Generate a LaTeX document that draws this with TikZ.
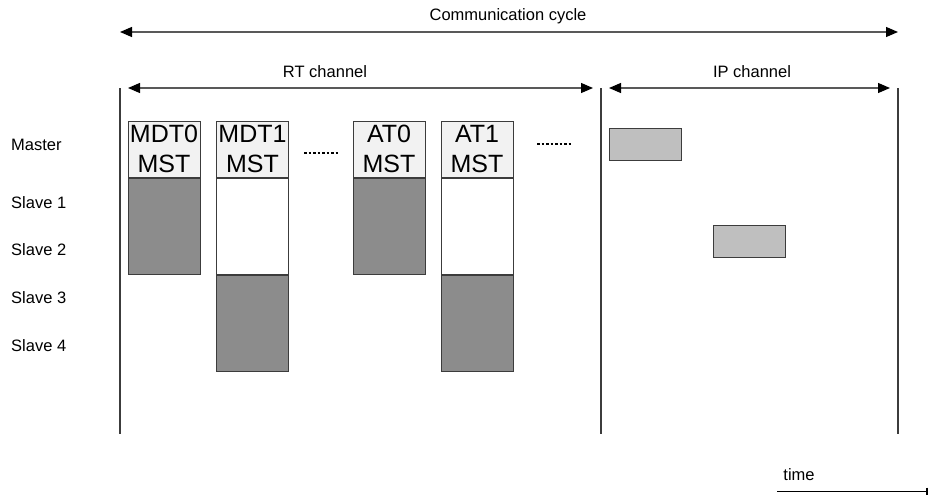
\documentclass[tikz,border=0pt]{standalone}
\usepackage{fontspec}
\setmainfont{Liberation Sans}
\usetikzlibrary{arrows.meta,positioning}
\definecolor{hdrgray}{HTML}{F2F2F2}
\definecolor{slotgray}{HTML}{8C8C8C}
\definecolor{ipgray}{HTML}{BFBFBF}
\definecolor{linegray}{HTML}{3C3C3C}
\tikzset{SLOT style/.style={x=1pt,y=-1pt,>={Triangle[length=12pt,width=10pt,color=black]}}}

\begin{document}
\begin{tikzpicture}[SLOT style]
	\tikzstyle{hdr}=[draw=linegray,line width=1pt,fill=hdrgray,minimum width=72pt,minimum height=56pt,inner sep=0pt,align=center,font=\fontsize{25}{30}\selectfont]
	\tikzstyle{busy}=[draw=linegray,line width=1pt,fill=slotgray,minimum width=72pt,minimum height=96pt,inner sep=0pt]
	\tikzstyle{idle}=[busy,fill=white]
	\tikzstyle{ipslot}=[draw=linegray,line width=1pt,fill=ipgray,minimum width=72pt,minimum height=32pt,inner sep=0pt]
	\tikzstyle{lbl}=[font=\fontsize{16.5}{18}\selectfont,inner sep=0pt]
	\tikzstyle{span}=[<->,draw=gray!70!black,line width=1.2pt]
	\tikzstyle{bound}=[draw=linegray,line width=1.3pt]
	\tikzstyle{dotline}=[line width=2.5pt,dash pattern=on 2.5pt off 2pt]
	
	\useasboundingbox (0,0) rectangle (929,498);
	
	% station names
	\node[lbl,anchor=west] (M) at (11,145) {Master};
	\node[lbl,anchor=west] (Sl1) at (11,203) {Slave 1};
	\node[lbl,anchor=west] (Sl2) at (11,250) {Slave 2};
	\node[lbl,anchor=west] (Sl3) at (11,298) {Slave 3};
	\node[lbl,anchor=west] (Sl4) at (11,346) {Slave 4};
	
	% boundaries
	\coordinate (B1t) at (120,88); \coordinate (B1b) at (120,434);
	\coordinate (B2t) at (601,88); \coordinate (B2b) at (601,434);
	\coordinate (B3t) at (898,88); \coordinate (B3b) at (898,434);
	\draw[bound] (B1t) -- (B1b);
	\draw[bound] (B2t) -- (B2b);
	\draw[bound] (B3t) -- (B3b);
	
	% spans
	\coordinate (C1) at (120,32); \coordinate (C2) at (898,32);
	\coordinate (R1) at (128,88); \coordinate (R2) at (593,88);
	\coordinate (P1) at (609,88); \coordinate (P2) at (890,88);
	\draw[span] (C1) -- (C2);
	\draw[span] (R1) -- (R2);
	\draw[span] (P1) -- (P2);
	\node[lbl] (CC) at (508,16) {Communication cycle};
	\node[lbl] (RT) at (325,72) {RT channel};
	\node[lbl] (IP) at (752,72) {IP channel};
	
	% RT telegrams
	\node[hdr] (H0) at (164,149) {MDT0\\MST};
	\node[hdr] (H1) at (252.5,149) {MDT1\\MST};
	\node[hdr] (H2) at (389,149) {AT0\\MST};
	\node[hdr] (H3) at (477,149) {AT1\\MST};
	
	\node[busy] (S0) [below=0pt of H0] {};
	\node[idle] (W1) [below=0pt of H1] {};
	\node[busy] (S1) [below=0pt of W1] {};
	\node[busy] (S2) [below=0pt of H2] {};
	\node[idle] (W3) [below=0pt of H3] {};
	\node[busy] (S3) [below=0pt of W3] {};
	
	\coordinate (D1a) at (304,153); \coordinate (D1b) at (338,153);
	\coordinate (D2a) at (537,144); \coordinate (D2b) at (571,144);
	\draw[dotline] (D1a) -- (D1b);
	\draw[dotline] (D2a) -- (D2b);
	
	% IP telegrams
	\node[ipslot] (IP1) at (645.5,144.5) {};
	\node[ipslot] (IP2) at (749.5,241) {};
	
	% time axis
	\coordinate (T1) at (777,491); \coordinate (T2) at (928,491);
	\draw[line width=1pt,-{Bar[width=7pt,line width=2pt]}] (T1) -- (T2);
	\node[lbl] (TM) at (799,475) {time};
\end{tikzpicture}
\end{document}
